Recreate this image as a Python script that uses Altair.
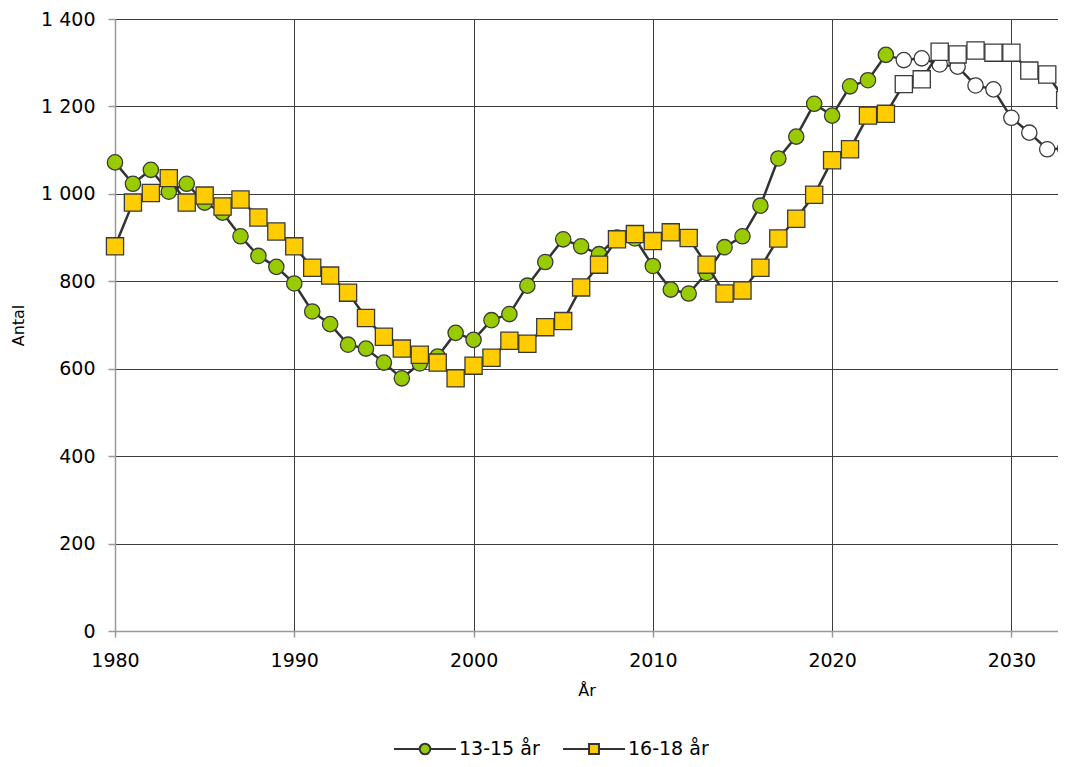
import altair as alt
import pandas as pd

years = list(range(1980, 2034))
first_projection_year = 2024

series_names = ["13-15 år", "16-18 år"]

vals_13_15 = [1072, 1023, 1055, 1005, 1023, 980, 957, 903, 858, 833,
              795, 731, 702, 655, 646, 614, 578, 612, 628, 682,
              666, 711, 725, 790, 844, 896, 880, 862, 900, 898,
              835, 781, 772, 819, 878, 903, 973, 1081, 1131, 1206,
              1179, 1246, 1260, 1318,
              1306, 1310, 1296, 1291, 1248, 1239, 1174, 1140, 1102, 1104]

vals_16_18 = [880, 980, 1002, 1036, 980, 996, 971, 987, 946, 914,
              880, 831, 813, 774, 716, 673, 646, 632, 614, 578,
              607, 625, 664, 657, 695, 709, 786, 838, 896, 908,
              892, 912, 899, 838, 772, 779, 831, 898, 943, 998,
              1077, 1102, 1179, 1183,
              1251, 1262, 1325, 1319, 1328, 1323, 1323, 1282, 1273, 1215]

x_ticks = [1980, 1990, 2000, 2010, 2020, 2030]
y_ticks = [0, 200, 400, 600, 800, 1000, 1200, 1400]

rows = []
for name, vals in zip(series_names, [vals_13_15, vals_16_18]):
    for yr, v in zip(years, vals):
        rows.append({"year": yr, "value": v, "series": name,
                     "proj": yr >= first_projection_year})
df = pd.DataFrame(rows)

FONT = "DejaVu Sans"
fill_colors = ["#99cc00", "#ffcc00"]
marker_shapes = ["circle", "square"]
marker_sizes = [235, 295]

# legend symbols: a line with the marker in the middle
circle_path = ("M-1,0L-0.17,0M0.17,0L1,0M-0.17,0"
               "A0.17,0.17 0 1,0 0.17,0A0.17,0.17 0 1,0 -0.17,0Z")
square_path = ("M-1,0L-0.17,0M0.17,0L1,0"
               "M-0.16,-0.16L0.16,-0.16L0.16,0.16L-0.16,0.16Z")

legend = alt.Legend(
    title=None, orient="none", direction="horizontal",
    legendX=278, legendY=698,
    symbolSize=3844, symbolStrokeColor="#333333", symbolStrokeWidth=2,
    symbolOpacity=1,
    labelFont=FONT, labelFontSize=19, labelColor="#000000",
    labelOffset=2, columnPadding=19,
)

x_enc = alt.X("year:Q",
              scale=alt.Scale(domain=[1980, 2032.6], nice=False, zero=False),
              axis=alt.Axis(values=x_ticks, format="d", title="År",
                            grid=True, tickSize=6, labelPadding=14,
                            labelFlush=False, titlePadding=12))
y_enc = alt.Y("value:Q",
              scale=alt.Scale(domain=[0, 1400], nice=False),
              axis=alt.Axis(values=y_ticks, title="Antal", grid=True,
                            tickSize=7, labelPadding=13, titlePadding=14,
                            labelFlush=False,
                            labelExpr="replace(format(datum.value, ','), ',', ' ')"))

fill_scale = alt.Scale(domain=series_names, range=fill_colors)

base = alt.Chart(df).encode(x=x_enc, y=y_enc)

# invisible layer that only carries the legend
legend_layer = base.mark_point(filled=True, opacity=0, strokeWidth=2).encode(
    fill=alt.Fill("series:N", scale=fill_scale, legend=legend),
    stroke=alt.Stroke("series:N",
                      scale=alt.Scale(domain=series_names,
                                      range=["#333333", "#333333"]),
                      legend=legend),
    shape=alt.Shape("series:N",
                    scale=alt.Scale(domain=series_names,
                                    range=[circle_path, square_path]),
                    legend=legend),
)

layers = [legend_layer]
for name, shp, sz in zip(series_names, marker_shapes, marker_sizes):
    sub = base.transform_filter(alt.datum.series == name)
    layers.append(sub.mark_line(color="#333333", strokeWidth=2.5))
    layers.append(sub.transform_filter("!datum.proj").mark_point(
        filled=True, shape=shp, size=sz, stroke="#3a3a3a", strokeWidth=1.3,
        opacity=1).encode(
        fill=alt.Fill("series:N", scale=fill_scale, legend=None)))
    layers.append(sub.transform_filter("datum.proj").mark_point(
        filled=True, shape=shp, size=sz, fill="white", stroke="#3a3a3a",
        strokeWidth=1.3, opacity=1))

chart = alt.layer(*layers).properties(
    width=943, height=612,
    autosize=alt.AutoSizeParams(type="none"),
    padding={"left": 107, "top": 11, "right": 0, "bottom": 128},
).configure_view(stroke=None).configure_axis(
    labelFont=FONT, labelFontSize=19, labelColor="#000000",
    titleFont=FONT, titleFontSize=16, titleFontWeight="normal", titleColor="#000000",
    gridColor="#3c3c3c", gridWidth=1, gridOpacity=1,
    domainColor="#999999", domainWidth=1.5,
    tickColor="#999999", tickWidth=1.5,
)

chart.save("out.html", embed_options={"renderer": "svg", "actions": False})
